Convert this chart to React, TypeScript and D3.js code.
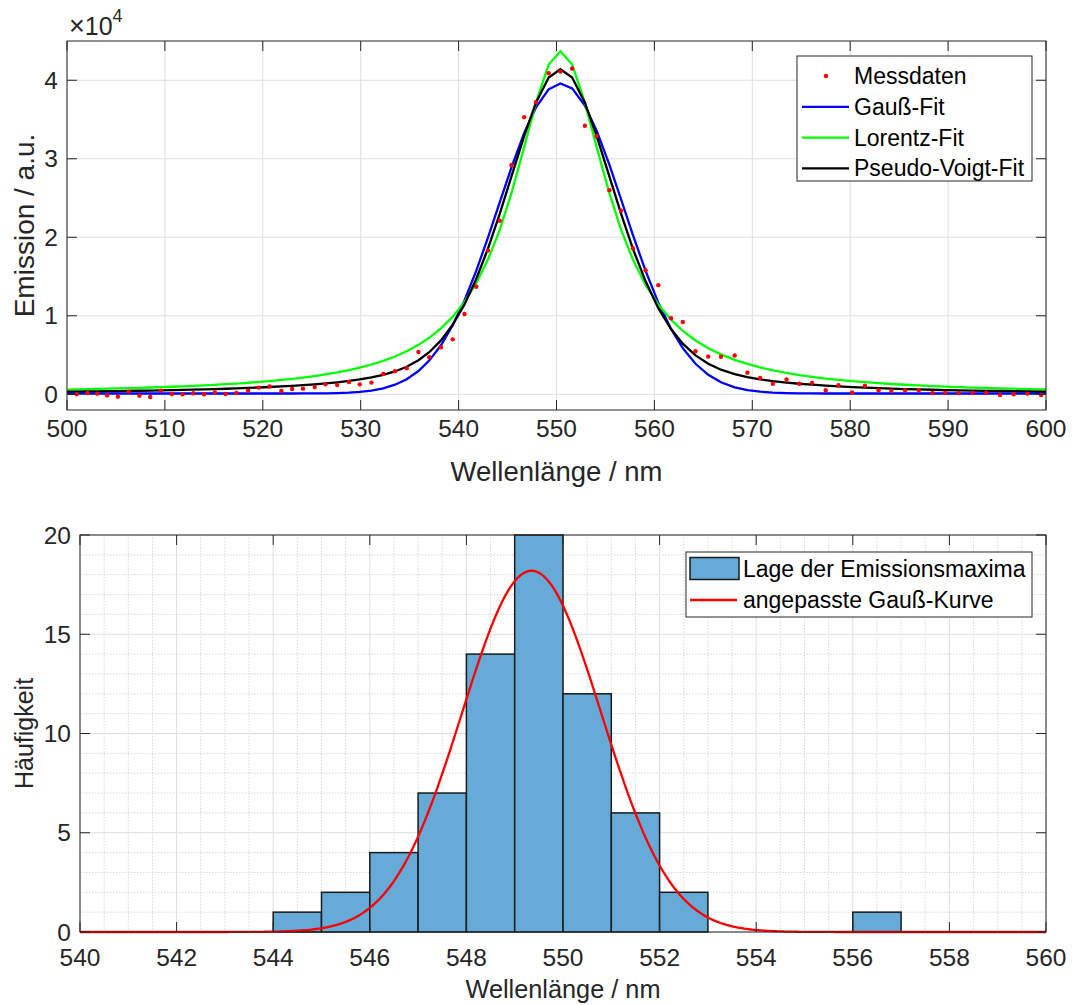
import React from "react";
import * as d3 from "d3";

// ---------- Data: top plot (emission spectrum) ----------
const wavelength = [
  501.0, 502.1, 503.1, 504.1, 505.2, 506.3, 507.4, 508.5, 509.6, 510.7,
  511.8, 512.9, 514.0, 515.1, 516.2, 517.3, 518.5, 519.6, 520.7, 521.9,
  523.0, 524.1, 525.3, 526.4, 527.6, 528.8, 529.9, 531.1, 532.3, 533.5,
  534.7, 535.9, 537.0, 538.2, 539.4, 540.6, 541.8, 543.0, 544.2, 545.4,
  546.7, 547.9, 549.2, 550.4, 551.6, 552.9, 554.1, 555.4, 556.6, 557.8,
  559.1, 560.4, 561.7, 562.9, 564.2, 565.5, 566.8, 568.2, 569.5, 570.8,
  572.1, 573.5, 574.8, 576.1, 577.5, 578.8, 580.2, 581.5, 582.9, 584.2,
  585.6, 587.0, 588.4, 589.7, 591.1, 592.5, 593.9, 595.3, 596.7, 598.1,
  599.5,
];
const emission = [
  0, 170, 80, -130, -300, 340, -170, -340, 470, 40,
  0, 130, 0, 250, 40, 170, 470, 850, 1000, 420,
  680, 720, 930, 1270, 1190, 1570, 1270, 1490, 2590, 2930,
  3310, 5390, 4710, 5990, 7000, 10230, 13700, 18300, 22100, 29200,
  35300, 37200, 40900, 41100, 41500, 34200, 32900, 26000, 23400, 18600,
  15800, 13900, 9700, 9200, 5480, 4800, 4780, 4950, 2760, 2070,
  1340, 1900, 1340, 1460, 520, 1160, 220, 1080, 520, 430,
  520, 520, 170, 200, 170, 200, 200, -90, 0, 90,
  -90,
];

// fit parameters
const gaussFit = { a: 39500, mu: 550.45, sigma: 6.35, c: 100 };
const lorentzFit = { a: 43700, mu: 550.4, gamma: 5.95, c: 0 };
const voigtFit = { a: 41400, mu: 550.4, hwhm: 6.8, eta: 0.45, c: 0 };

const topXTicks = [500, 510, 520, 530, 540, 550, 560, 570, 580, 590, 600];
const topYTicks = [0, 10000, 20000, 30000, 40000];
const topYTickLabels = ["0", "1", "2", "3", "4"];

const topLegend = ["Messdaten", "Gauß-Fit", "Lorentz-Fit", "Pseudo-Voigt-Fit"];
const topColors = ["#ff0000", "#0000ff", "#00ff00", "#000000"];

// ---------- Data: bottom plot (histogram) ----------
const binEdges = [544, 545, 546, 547, 548, 549, 550, 551, 552, 553, 554, 555, 556, 557];
const counts = [1, 2, 4, 7, 14, 20, 12, 6, 2, 0, 0, 0, 1];
const histFit = { a: 18.2, mu: 549.35, sigma: 1.44 };

const botXTicks = [540, 542, 544, 546, 548, 550, 552, 554, 556, 558, 560];
const botYTicks = [0, 5, 10, 15, 20];
const botLegend = ["Lage der Emissionsmaxima", "angepasste Gauß-Kurve"];

const FONT = "'Liberation Sans', Arial, Helvetica, sans-serif";
const AX = "#262626";
const GRID = "#dedede";
const MINOR = "#cfcfcf";

function gauss(x: number, p: { a: number; mu: number; sigma: number; c?: number }) {
  return p.a * Math.exp(-((x - p.mu) ** 2) / (2 * p.sigma ** 2)) + (p.c || 0);
}
function lorentz(x: number, p: typeof lorentzFit) {
  return p.a / (1 + ((x - p.mu) / p.gamma) ** 2) + p.c;
}
function voigt(x: number, p: typeof voigtFit) {
  const u = (x - p.mu) / p.hwhm;
  return p.a * (p.eta / (1 + u * u) + (1 - p.eta) * Math.exp(-Math.LN2 * u * u)) + p.c;
}

export default function App() {
  // top axes
  const t = { l: 67, r: 1046, t: 41, b: 410 };
  const x1 = d3.scaleLinear().domain([500, 600]).range([t.l, t.r]);
  const y1 = d3.scaleLinear().domain([-2000, 45000]).range([t.b, t.t]);
  // bottom axes
  const b = { l: 80, r: 1046, t: 535, b: 932 };
  const x2 = d3.scaleLinear().domain([540, 560]).range([b.l, b.r]);
  const y2 = d3.scaleLinear().domain([0, 20]).range([b.b, b.t]);

  const curveX = [500, ...wavelength, 600];
  const line1 = d3
    .line<number>()
    .x((d) => x1(d))
    .curve(d3.curveLinear);
  const gPath = line1.y((d) => y1(gauss(d, gaussFit)))(curveX) || "";
  const lPath = line1.y((d) => y1(lorentz(d, lorentzFit)))(curveX) || "";
  const vPath = line1.y((d) => y1(voigt(d, voigtFit)))(curveX) || "";

  const fineX = d3.range(540, 560.0001, 0.05);
  const hPath =
    d3
      .line<number>()
      .x((d) => x2(d))
      .y((d) => y2(gauss(d, histFit)))(fineX) || "";

  const minorX = d3.range(540, 560.001, 0.5).filter((v) => Math.abs(v / 2 - Math.round(v / 2)) > 1e-6);
  const minorY = d3.range(0, 20.001, 1).filter((v) => v % 5 !== 0);

  const tick = 10;
  const LW = 2.3;

  return (
    <svg
      width={1072}
      height={1005}
      style={{ position: "absolute", left: 0, top: 0, background: "#fff" }}
      fontFamily={FONT}
    >
      <defs>
        <clipPath id="clipTop">
          <rect x={t.l} y={t.t} width={t.r - t.l} height={t.b - t.t} />
        </clipPath>
        <clipPath id="clipBot">
          <rect x={b.l} y={b.t - 2} width={b.r - b.l} height={b.b - b.t + 4} />
        </clipPath>
      </defs>
      <rect x={0} y={0} width={1072} height={1005} fill="#fff" />

      {/* ================= TOP PLOT ================= */}
      <g>
        {topXTicks.map((v) => (
          <line key={"gx" + v} x1={x1(v)} x2={x1(v)} y1={t.t} y2={t.b} stroke={GRID} strokeWidth={1} />
        ))}
        {topYTicks.map((v) => (
          <line key={"gy" + v} x1={t.l} x2={t.r} y1={y1(v)} y2={y1(v)} stroke={GRID} strokeWidth={1} />
        ))}
        <g clipPath="url(#clipTop)">
          <path d={gPath} fill="none" stroke={topColors[1]} strokeWidth={LW} />
          <path d={lPath} fill="none" stroke={topColors[2]} strokeWidth={LW} />
          <path d={vPath} fill="none" stroke={topColors[3]} strokeWidth={LW} />
          {wavelength.map((w, i) => (
            <circle key={"p" + i} cx={x1(w)} cy={y1(emission[i])} r={2.2} fill={topColors[0]} />
          ))}
        </g>
        {/* box */}
        <rect x={t.l} y={t.t} width={t.r - t.l} height={t.b - t.t} fill="none" stroke={AX} strokeWidth={1} />
        {topXTicks.map((v) => (
          <g key={"tx" + v}>
            <line x1={x1(v)} x2={x1(v)} y1={t.b} y2={t.b - tick} stroke={AX} />
            <line x1={x1(v)} x2={x1(v)} y1={t.t} y2={t.t + tick} stroke={AX} />
            <text x={x1(v)} y={437} fontSize={24.5} fill={AX} textAnchor="middle">
              {v}
            </text>
          </g>
        ))}
        {topYTicks.map((v, i) => (
          <g key={"ty" + v}>
            <line x1={t.l} x2={t.l + tick} y1={y1(v)} y2={y1(v)} stroke={AX} />
            <line x1={t.r} x2={t.r - tick} y1={y1(v)} y2={y1(v)} stroke={AX} />
            <text x={58} y={y1(v) + 8.5} fontSize={24.5} fill={AX} textAnchor="end">
              {topYTickLabels[i]}
            </text>
          </g>
        ))}
        <text x={69} y={35} fontSize={25} fill={AX}>
          <tspan fontSize={27}>×</tspan>10
          <tspan fontSize={18} dy={-13}>
            4
          </tspan>
        </text>
        <text x={(t.l + t.r) / 2} y={481} fontSize={27.5} fill={AX} textAnchor="middle">
          Wellenlänge / nm
        </text>
        <text
          transform={`translate(33.5, ${(t.t + t.b) / 2}) rotate(-90)`}
          fontSize={28}
          fill={AX}
          textAnchor="middle"
        >
          Emission / a.u.
        </text>

        {/* legend */}
        <rect x={797} y={56} width={235} height={125} fill="#fff" stroke={AX} strokeWidth={1} />
        {topLegend.map((s, i) => {
          const cy = 76 + i * 30.8;
          return (
            <g key={"lg" + i}>
              {i === 0 ? (
                <circle cx={826} cy={cy} r={2.2} fill={topColors[0]} />
              ) : (
                <line x1={802} x2={849} y1={cy} y2={cy} stroke={topColors[i]} strokeWidth={LW} />
              )}
              <text x={854} y={cy + 8} fontSize={23} fill="#000">
                {s}
              </text>
            </g>
          );
        })}
      </g>

      {/* ================= BOTTOM PLOT ================= */}
      <g>
        {minorX.map((v) => (
          <line key={"mx" + v} x1={x2(v)} x2={x2(v)} y1={b.t} y2={b.b} stroke={MINOR} strokeWidth={0.8} strokeDasharray="1.5,1.5" />
        ))}
        {minorY.map((v) => (
          <line key={"my" + v} x1={b.l} x2={b.r} y1={y2(v)} y2={y2(v)} stroke={MINOR} strokeWidth={0.8} strokeDasharray="1.5,1.5" />
        ))}
        {botXTicks.map((v) => (
          <line key={"bgx" + v} x1={x2(v)} x2={x2(v)} y1={b.t} y2={b.b} stroke={GRID} strokeWidth={1} />
        ))}
        {botYTicks.map((v) => (
          <line key={"bgy" + v} x1={b.l} x2={b.r} y1={y2(v)} y2={y2(v)} stroke={GRID} strokeWidth={1} />
        ))}
        <g clipPath="url(#clipBot)">
          {counts.map((c, i) => (
            <rect
              key={"bar" + i}
              x={x2(binEdges[i])}
              y={y2(c)}
              width={x2(binEdges[i + 1]) - x2(binEdges[i])}
              height={y2(0) - y2(c)}
              fill="#66aad7"
              stroke="#1a1a1a"
              strokeWidth={1.5}
            />
          ))}
          <path d={hPath} fill="none" stroke="#ff0000" strokeWidth={LW} />
        </g>
        <rect x={b.l} y={b.t} width={b.r - b.l} height={b.b - b.t} fill="none" stroke={AX} strokeWidth={1} />
        {botXTicks.map((v) => (
          <g key={"btx" + v}>
            <line x1={x2(v)} x2={x2(v)} y1={b.b} y2={b.b - tick} stroke={AX} />
            <line x1={x2(v)} x2={x2(v)} y1={b.t} y2={b.t + tick} stroke={AX} />
            <text x={x2(v)} y={966} fontSize={24.5} fill={AX} textAnchor="middle">
              {v}
            </text>
          </g>
        ))}
        {botYTicks.map((v) => (
          <g key={"bty" + v}>
            <line x1={b.l} x2={b.l + tick} y1={y2(v)} y2={y2(v)} stroke={AX} />
            <line x1={b.r} x2={b.r - tick} y1={y2(v)} y2={y2(v)} stroke={AX} />
            <text x={71} y={y2(v) + 8.5} fontSize={24.5} fill={AX} textAnchor="end">
              {v}
            </text>
          </g>
        ))}
        <text x={(b.l + b.r) / 2} y={998} fontSize={25.3} fill={AX} textAnchor="middle">
          Wellenlänge / nm
        </text>
        <text
          transform={`translate(33, ${(b.t + b.b) / 2}) rotate(-90)`}
          fontSize={25}
          fill={AX}
          textAnchor="middle"
        >
          Häufigkeit
        </text>

        {/* legend */}
        <rect x={686} y={552} width={346} height={65} fill="#fff" stroke={AX} strokeWidth={1} />
        <rect x={690} y={557.5} width={49} height={22} fill="#66aad7" stroke="#1a1a1a" strokeWidth={1.5} />
        <text x={743} y={577} fontSize={23} fill="#000">
          {botLegend[0]}
        </text>
        <line x1={690} x2={737} y1={600} y2={600} stroke="#ff0000" strokeWidth={LW} />
        <text x={743} y={608} fontSize={23} fill="#000">
          {botLegend[1]}
        </text>
      </g>
    </svg>
  );
}
